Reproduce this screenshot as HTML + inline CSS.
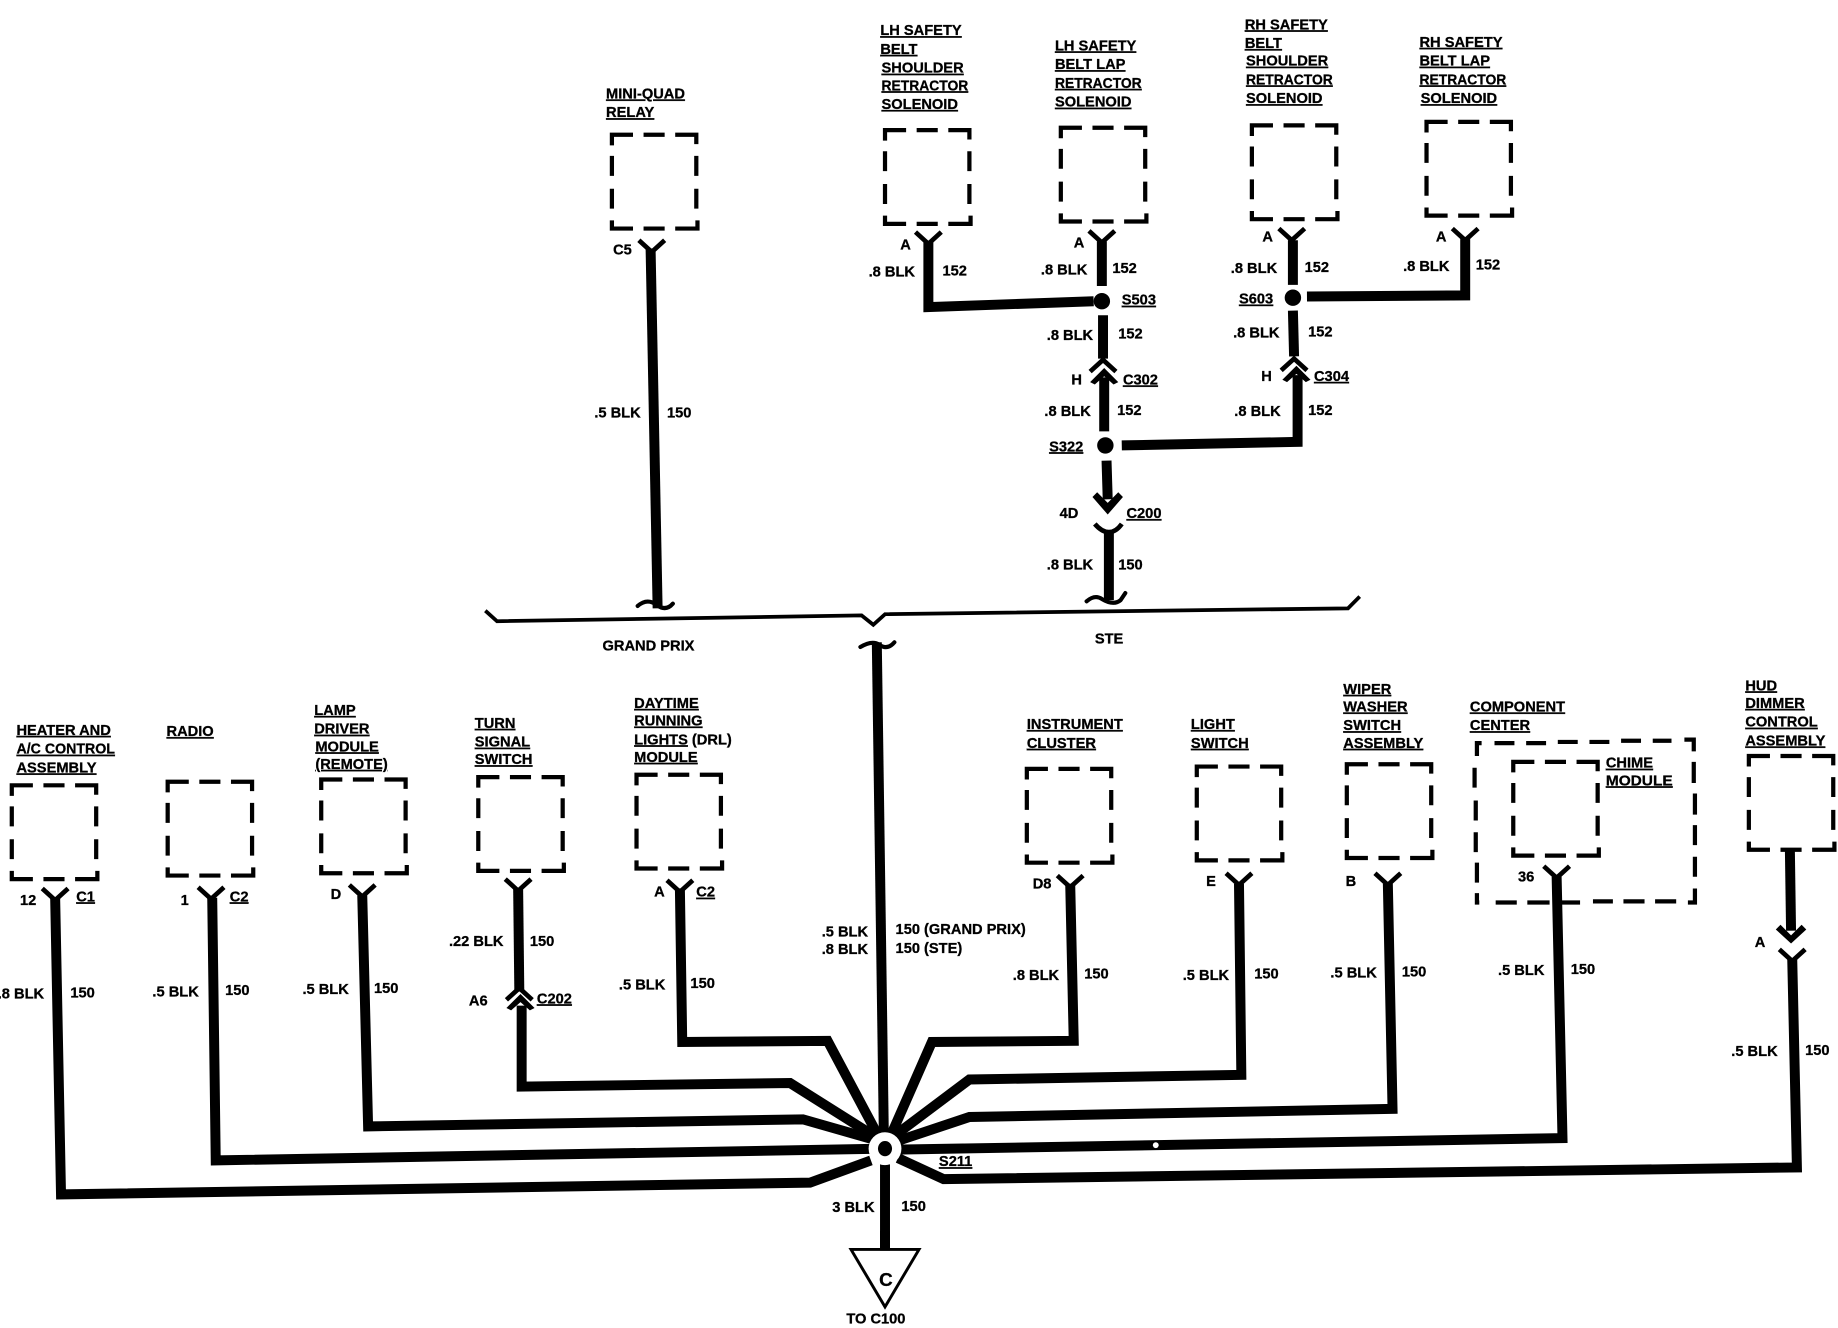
<!DOCTYPE html>
<html>
<head>
<meta charset="utf-8">
<style>
html,body{margin:0;padding:0;background:#fff;width:1838px;height:1328px;overflow:hidden}
svg{display:block}
text{font-family:"Liberation Sans",sans-serif;font-weight:bold;font-size:12.5px;fill:#000;stroke:#000;stroke-width:.25}
.u{text-decoration:underline}
.w{fill:none;stroke:#000;stroke-width:8.5;stroke-linejoin:miter}
.c{fill:none;stroke:#000;stroke-width:4}
.h{fill:none;stroke:#000;stroke-width:3.5;stroke-linecap:round}
</style>
</head>
<body>
<svg xmlns="http://www.w3.org/2000/svg" width="1838" height="1328" viewBox="0 0 1568 1133">
<defs>
<path id="box" d="M2 11V2H20M29 2H47M56 2H74V10M2 20V37M2 48V65M2 75V82H20M29 82H47M56 82H75V75M74 20V37M74 48V65" fill="none" stroke="#000" stroke-width="3.6"/>
<path id="y" d="M-11 -10L0 0L11 -10" class="c"/>
<path id="n" d="M-11 10L0 0L11 10" class="c"/>
<path id="ar" d="M-12 11L0 -1L12 11L8 13L0 6L-8 13Z"/>
</defs>

<!-- boxes -->
<use href="#box" x="520" y="113"/>
<use href="#box" x="753" y="109"/>
<use href="#box" x="903" y="107"/>
<use href="#box" x="1066" y="105"/>
<use href="#box" x="1215" y="102"/>
<use href="#box" x="8" y="668"/>
<use href="#box" x="141" y="665"/>
<use href="#box" x="272" y="663"/>
<use href="#box" x="406" y="661"/>
<use href="#box" x="541" y="659"/>
<use href="#box" x="874" y="654"/>
<use href="#box" x="1019" y="652"/>
<use href="#box" x="1147" y="650"/>
<use href="#box" x="1289" y="648"/>
<use href="#box" x="1490" y="643"/>

<!-- component centre -->
<path fill="none" stroke="#000" stroke-width="3.6" d="M1260 645V634H1264M1275 634H1292M1302 634H1319M1329 633H1346M1356 633H1373M1383 632H1400M1410 632H1426M1437 631H1445V641M1445 650V668M1446 677V695M1446 704V721M1446 731V748M1446 758V770H1440M1430 769H1412M1403 769H1385M1376 769H1359M1348 770H1332M1322 770H1303M1294 770H1276M1262 770H1260V762M1260 753V736M1259 727V710M1259 700V683M1258 672V655"/>

<!-- top part wires -->
<path class="w" d="M555 212L561 519"/>
<path class="h" d="M544 517Q552 510 560 516Q568 522 574 515"/>
<path fill="none" stroke="#000" stroke-width="3.2" d="M414 521L424 530L735 525L745 533L755 524L1150 519L1160 509"/>
<path class="w" d="M748 548L754 968"/>
<path class="h" d="M734 552Q744 546 750 550Q757 555 763 548"/>

<path class="w" d="M792 206V262L933 257"/>
<path class="w" d="M940 206V244"/>
<circle cx="940" cy="257" r="7"/>
<path class="w" d="M941 269V306"/>
<path class="w" d="M942 322V368"/>
<circle cx="943" cy="380" r="7"/>
<path class="w" d="M957 380L1107 377V320"/>
<path class="w" d="M1103 205V243"/>
<circle cx="1103" cy="254" r="7"/>
<path class="w" d="M1103 265L1104 304"/>
<path class="w" d="M1250 204V252L1115 253"/>
<path class="w" d="M944 393L945 426"/>
<path d="M932 424L936 420L945 429L954 420L958 424L945 439Z"/>
<path class="w" d="M946 453V512"/>
<path class="h" d="M927 513Q934 507 940 511Q950 517 956 512L960 506"/>

<use href="#y" x="556" y="215"/>
<use href="#y" x="792" y="208"/>
<use href="#y" x="940" y="207"/>
<use href="#y" x="1102" y="205"/>
<use href="#y" x="1250" y="205"/>
<use href="#n" x="941" y="307"/>
<use href="#ar" x="942" y="315"/>
<use href="#n" x="1104" y="306"/>
<use href="#ar" x="1106" y="313"/>
<path class="c" d="M934 447Q940 454 946 454Q952 454 957 447"/>

<!-- bottom fan -->
<path class="w" d="M47 766L52 1019L691 1009L743 990"/>
<path class="w" d="M181 766L184 990L755 980"/>
<path class="w" d="M309 764L314 961L685 955L755 975"/>
<path class="w" d="M442 758L443 846"/>
<path class="w" d="M445 858V927L674 924L755 975"/>
<path class="w" d="M580 758L582 889L706 888L755 980"/>
<path class="w" d="M913 754L916 888L795 889L755 980"/>
<path class="w" d="M1057 754L1059 917L827 921L755 975"/>
<path class="w" d="M1184 754L1188 946L827 953L755 977"/>
<path class="w" d="M1328 748L1333 971L755 981"/>
<path class="w" d="M1527 725L1528 794"/>
<path d="M1515 793L1519 789L1528 798L1537 789L1541 793L1528 805Z"/>
<path class="w" d="M1529 818L1533 996L805 1006L766 988"/>
<path class="w" d="M755 992V1067"/>
<circle cx="755" cy="980" r="14" fill="#fff"/>
<ellipse cx="755" cy="980" rx="6" ry="6.5"/>
<path d="M726 1066H784L755 1115Z" fill="#fff" stroke="#000" stroke-width="2.5"/>
<path class="w" d="M755 1050V1067"/>
<circle cx="986" cy="977" r="2.5" fill="#fff"/>

<use href="#y" x="47" y="768"/>
<use href="#y" x="180" y="767"/>
<use href="#y" x="309" y="765"/>
<use href="#y" x="442" y="760"/>
<use href="#y" x="580" y="761"/>
<use href="#y" x="913" y="757"/>
<use href="#y" x="1057" y="755"/>
<use href="#y" x="1184" y="755"/>
<use href="#y" x="1328" y="749"/>
<use href="#y" x="1529" y="820"/>
<use href="#n" x="443" y="843"/>
<use href="#ar" x="444" y="849"/>

<!-- labels -->
<g>
<text x="517" y="84" class="u">MINI-QUAD</text><text x="517" y="100" class="u">RELAY</text>
<text x="751" y="30" class="u">LH SAFETY</text><text x="751" y="46" class="u">BELT</text><text x="752" y="62" class="u">SHOULDER</text><text x="752" y="77" class="u" textLength="74" lengthAdjust="spacingAndGlyphs">RETRACTOR</text><text x="752" y="93" class="u">SOLENOID</text>
<text x="900" y="43" class="u">LH SAFETY</text><text x="900" y="59" class="u">BELT LAP</text><text x="900" y="75" class="u" textLength="74" lengthAdjust="spacingAndGlyphs">RETRACTOR</text><text x="900" y="91" class="u">SOLENOID</text>
<text x="1062" y="25" class="u">RH SAFETY</text><text x="1062" y="41" class="u">BELT</text><text x="1063" y="56" class="u">SHOULDER</text><text x="1063" y="72" class="u" textLength="74" lengthAdjust="spacingAndGlyphs">RETRACTOR</text><text x="1063" y="88" class="u">SOLENOID</text>
<text x="1211" y="40" class="u">RH SAFETY</text><text x="1211" y="56" class="u">BELT LAP</text><text x="1211" y="72" class="u" textLength="74" lengthAdjust="spacingAndGlyphs">RETRACTOR</text><text x="1212" y="88" class="u">SOLENOID</text>

<text x="768" y="213">A</text><text x="916" y="211">A</text><text x="1077" y="206">A</text><text x="1225" y="206">A</text>
<text x="741" y="236">.8 BLK</text><text x="804" y="235">152</text>
<text x="888" y="234">.8 BLK</text><text x="949" y="233">152</text>
<text x="1050" y="233">.8 BLK</text><text x="1113" y="232">152</text>
<text x="1197" y="231">.8 BLK</text><text x="1259" y="230">152</text>
<text x="957" y="260" class="u">S503</text><text x="1057" y="259" class="u">S603</text>
<text x="893" y="290">.8 BLK</text><text x="954" y="289">152</text>
<text x="1052" y="288">.8 BLK</text><text x="1116" y="287">152</text>
<text x="914" y="328">H</text><text x="958" y="328" class="u">C302</text>
<text x="1076" y="325">H</text><text x="1121" y="325" class="u">C304</text>
<text x="891" y="355">.8 BLK</text><text x="953" y="354">152</text>
<text x="1053" y="355">.8 BLK</text><text x="1116" y="354">152</text>
<text x="895" y="385" class="u">S322</text>
<text x="904" y="442">4D</text><text x="961" y="442" class="u">C200</text>
<text x="893" y="486">.8 BLK</text><text x="954" y="486">150</text>
<text x="934" y="549">STE</text><text x="514" y="555">GRAND PRIX</text>
<text x="523" y="217">C5</text>
<text x="507" y="356">.5 BLK</text><text x="569" y="356">150</text>

<text x="14" y="627" class="u">HEATER AND</text><text x="14" y="643" class="u" textLength="84" lengthAdjust="spacingAndGlyphs">A/C CONTROL</text><text x="14" y="659" class="u">ASSEMBLY</text>
<text x="142" y="628" class="u">RADIO</text>
<text x="268" y="610" class="u">LAMP</text><text x="268" y="626" class="u">DRIVER</text><text x="269" y="641" class="u">MODULE</text><text x="269" y="656" class="u">(REMOTE)</text>
<text x="405" y="621" class="u">TURN</text><text x="405" y="637" class="u">SIGNAL</text><text x="405" y="652" class="u">SWITCH</text>
<text x="541" y="604" class="u">DAYTIME</text><text x="541" y="619" class="u">RUNNING</text><text x="541" y="635"><tspan class="u">LIGHTS</tspan> (DRL)</text><text x="541" y="650" class="u">MODULE</text>
<text x="876" y="622" class="u">INSTRUMENT</text><text x="876" y="638" class="u">CLUSTER</text>
<text x="1016" y="622" class="u">LIGHT</text><text x="1016" y="638" class="u">SWITCH</text>
<text x="1146" y="592" class="u">WIPER</text><text x="1146" y="607" class="u">WASHER</text><text x="1146" y="623" class="u">SWITCH</text><text x="1146" y="638" class="u">ASSEMBLY</text>
<text x="1254" y="607" class="u">COMPONENT</text><text x="1254" y="623" class="u">CENTER</text>
<text x="1370" y="655" class="u">CHIME</text><text x="1370" y="670" class="u" textLength="57" lengthAdjust="spacingAndGlyphs">MODULE</text>
<text x="1489" y="589" class="u">HUD</text><text x="1489" y="604" class="u">DIMMER</text><text x="1489" y="620" class="u">CONTROL</text><text x="1489" y="636" class="u">ASSEMBLY</text>

<text x="17" y="772">12</text><text x="65" y="769" class="u">C1</text>
<text x="154" y="772">1</text><text x="196" y="769" class="u">C2</text>
<text x="282" y="767">D</text>
<text x="558" y="765">A</text><text x="594" y="765" class="u">C2</text>
<text x="-2" y="852">.8 BLK</text><text x="60" y="851">150</text>
<text x="130" y="850">.5 BLK</text><text x="192" y="849">150</text>
<text x="258" y="848">.5 BLK</text><text x="319" y="847">150</text>
<text x="383" y="807">.22 BLK</text><text x="452" y="807">150</text>
<text x="400" y="858">A6</text><text x="458" y="856" class="u">C202</text>
<text x="528" y="844">.5 BLK</text><text x="589" y="843">150</text>
<text x="701" y="799">.5 BLK</text><text x="764" y="797">150 (GRAND PRIX)</text>
<text x="701" y="814">.8 BLK</text><text x="764" y="813">150 (STE)</text>
<text x="881" y="758">D8</text><text x="1029" y="756">E</text><text x="1148" y="756">B</text><text x="1295" y="752">36</text><text x="1497" y="808">A</text>
<text x="864" y="836">.8 BLK</text><text x="925" y="835">150</text>
<text x="1009" y="836">.5 BLK</text><text x="1070" y="835">150</text>
<text x="1135" y="834">.5 BLK</text><text x="1196" y="833">150</text>
<text x="1278" y="832">.5 BLK</text><text x="1340" y="831">150</text>
<text x="1477" y="901">.5 BLK</text><text x="1540" y="900">150</text>
<text x="710" y="1034">3 BLK</text><text x="769" y="1033">150</text>
<text x="801" y="995" class="u">S211</text>
<text x="750" y="1097" style="font-size:16px">C</text>
<text x="722" y="1129">TO C100</text>
</g>
</svg>
</body>
</html>
